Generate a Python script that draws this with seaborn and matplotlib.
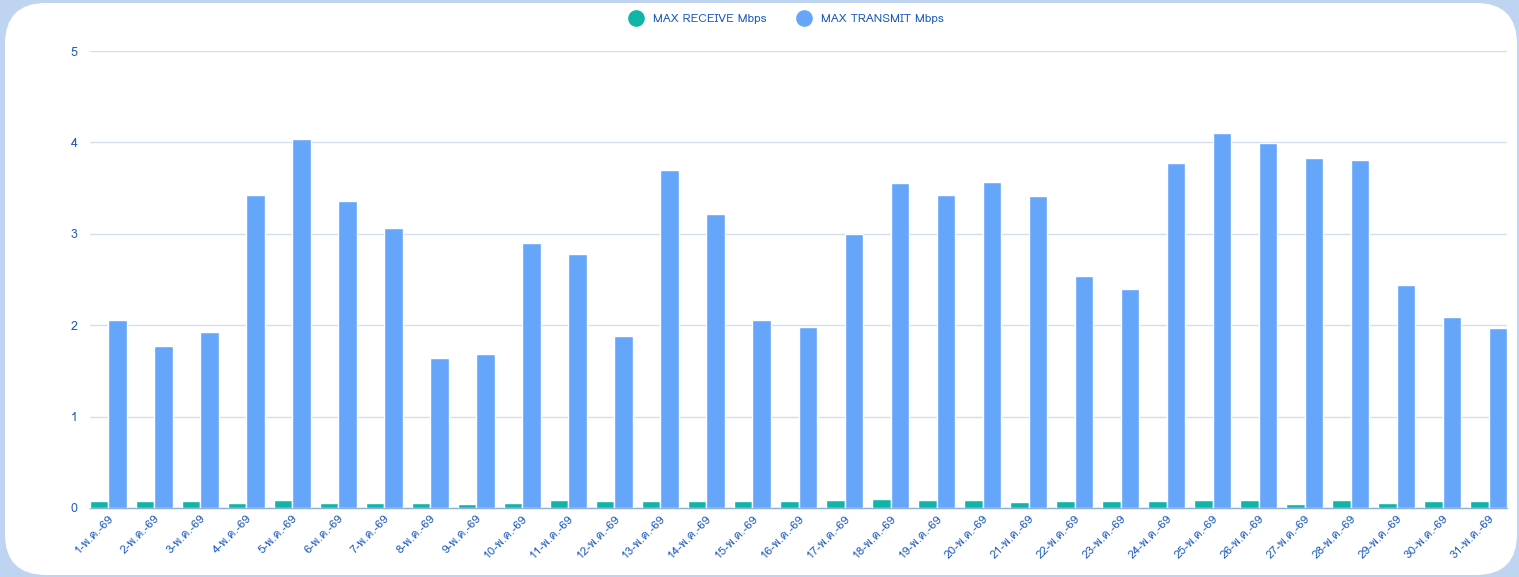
import pandas as pd
import numpy as np
import matplotlib.pyplot as plt
import seaborn as sns
from matplotlib import font_manager, ft2font
from matplotlib.patches import FancyBboxPatch
from matplotlib.lines import Line2D

days = [f"{d}-พ.ค.-69" for d in range(1, 32)]
receive = [0.078, 0.082, 0.082, 0.06, 0.09, 0.055, 0.055, 0.05, 0.045, 0.055,
           0.088, 0.08, 0.082, 0.082, 0.08, 0.08, 0.088, 0.095, 0.088, 0.088,
           0.065, 0.082, 0.08, 0.08, 0.09, 0.09, 0.045, 0.09, 0.05, 0.08, 0.082]
transmit = [2.06, 1.77, 1.93, 3.42, 4.04, 3.36, 3.06, 1.64, 1.68, 2.90,
            2.78, 1.88, 3.70, 3.22, 2.06, 1.98, 3.00, 3.56, 3.42, 3.57,
            3.41, 2.54, 2.40, 3.77, 4.10, 3.99, 3.83, 3.81, 2.44, 2.09, 1.97]
series_names = ['MAX RECEIVE Mbps', 'MAX TRANSMIT Mbps']
colors = {'MAX RECEIVE Mbps': '#0fb5a6', 'MAX TRANSMIT Mbps': '#66a6fa'}
yticks = [0, 1, 2, 3, 4, 5]

df = pd.DataFrame({
    'day': days * 2,
    'value': receive + transmit,
    'series': [series_names[0]] * len(days) + [series_names[1]] * len(days),
})

# look for an installed font that can draw Thai
thai_fonts = []
for f in font_manager.fontManager.ttflist:
    try:
        if ord('พ') in ft2font.FT2Font(f.fname).get_charmap():
            thai_fonts.append(f.name)
    except Exception:
        pass
thai_fonts = list(dict.fromkeys(thai_fonts))

sns.set_style('white')
plt.rcParams['font.family'] = thai_fonts[:1] + ['DejaVu Sans']
text_color = '#1f5cbf'

fig = plt.figure(figsize=(15.19, 5.77), dpi=100)
fig.patch.set_facecolor('#bfd4f1')
card = FancyBboxPatch((5 / 1519, 2 / 577), 1512 / 1519, 572 / 577,
                      boxstyle='round,pad=0,rounding_size=0.027',
                      transform=fig.transFigure, facecolor='white',
                      edgecolor='none', mutation_aspect=1519 / 577, zorder=-5)
fig.patches.append(card)

ax = fig.add_axes([90 / 1519, 1 - 508 / 577, 1417 / 1519, 457 / 577])
ax.set_zorder(2)
ax.set_facecolor('none')
sns.barplot(data=df, x='day', y='value', hue='series', palette=colors,
            width=0.8, saturation=1, legend=False, ax=ax, zorder=3)

ax.set_xlim(-0.4, len(days) - 0.6)
ax.set_ylim(0, 5)
ax.set_yticks(yticks)
ax.yaxis.grid(True, color='#d3dfee', linewidth=1)
ax.set_axisbelow(True)
for s in ['top', 'right', 'left']:
    ax.spines[s].set_visible(False)
ax.spines['bottom'].set_color('#8eaedc')
ax.spines['bottom'].set_linewidth(1)
ax.tick_params(axis='y', length=0, pad=9, labelsize=9, colors=text_color)
ax.tick_params(axis='x', length=0, pad=4, labelsize=8.5, colors=text_color)
plt.setp(ax.get_xticklabels(), rotation=45, ha='right', rotation_mode='anchor')
ax.set_xlabel('')
ax.set_ylabel('')

handles = [Line2D([], [], marker='o', linestyle='none', markersize=12,
                  markerfacecolor=colors[n], markeredgecolor='none') for n in series_names]
leg = fig.legend(handles, series_names, loc='center', bbox_to_anchor=(784 / 1519, 1 - 19 / 577),
                 ncol=2, frameon=False, fontsize=8.5, labelcolor=text_color,
                 handletextpad=0.4, columnspacing=2.2)
leg.set_zorder(3)

plt.savefig('out.png', dpi=100, facecolor=fig.get_facecolor())
plt.close()
